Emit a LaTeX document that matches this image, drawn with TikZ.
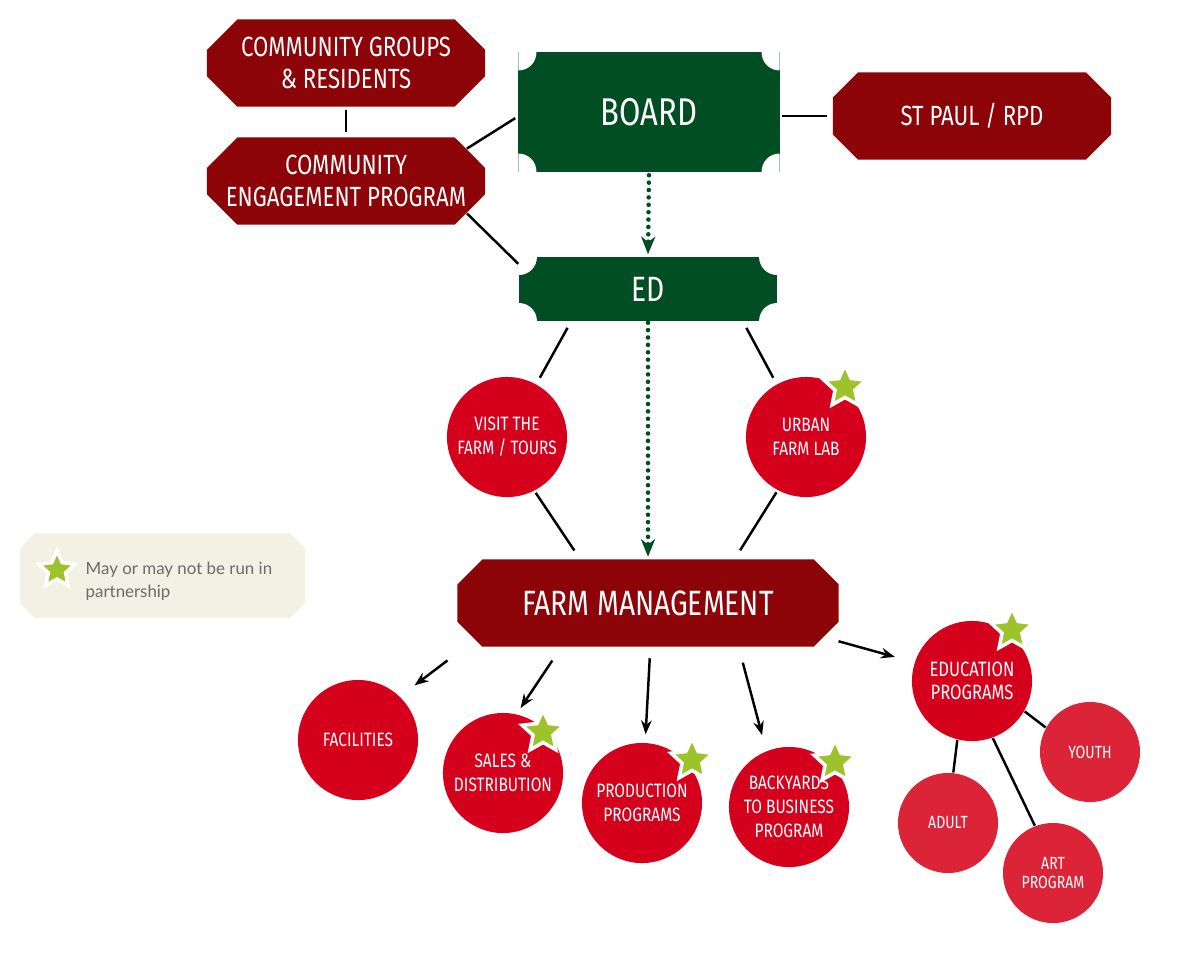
\documentclass[tikz,border=0pt]{standalone}
\usepackage{fontspec}
\setmainfont{Fira Sans}[FakeStretch=0.8]
\newfontfamily\notefont{Lato}
\usetikzlibrary{shapes.misc,shapes.geometric,arrows.meta}

\definecolor{boxred}{HTML}{8C0308}
\definecolor{boardgreen}{HTML}{014E24}
\definecolor{dotred}{HTML}{D5001C}
\definecolor{subred}{HTML}{DB2438}
\definecolor{partnerlime}{HTML}{9CC42A}
\definecolor{notebg}{HTML}{F3F1E4}
\definecolor{notegray}{HTML}{6B6B6B}

\begin{document}
\begin{tikzpicture}[x=0.01cm, y=-0.01cm,
  redbox/.style={chamfered rectangle, chamfered rectangle xsep=0.18cm, fill=boxred, text=white, align=center,
    minimum width=2.78cm, minimum height=0.87cm, inner sep=0pt, font=\fontsize{7.9}{9.1}\selectfont},
  greenbox/.style={rectangle, fill=boardgreen, text=white, inner sep=0pt,
    path picture={\foreach \corner in {north west,north east,south west,south east}
      \fill[white] (path picture bounding box.\corner) circle[radius=0.18cm];}},
  bigdot/.style={circle, fill=dotred, text=white, minimum size=1.2cm, inner sep=0pt, align=center,
    font=\fontsize{5.5}{6.8}\selectfont},
  smalldot/.style={circle, fill=subred, text=white, minimum size=1.0cm, inner sep=0pt, align=center,
    font=\fontsize{5}{5.2}\selectfont},
  partner/.style={star, star points=5, star point ratio=2.1, minimum size=0.44cm, inner sep=0pt,
    fill=partnerlime, draw=white, line width=1pt},
  link/.style={line width=0.7pt, black},
  feed/.style={link, -{Stealth[length=4pt,width=3pt]}},
  chain/.style={draw=boardgreen, line width=1.3pt, dash pattern=on 0pt off 2.1pt, line cap=round,
    -{Stealth[length=5pt,width=4pt,inset=1.5pt]}}]
\useasboundingbox (0,0) rectangle (1200,960);

% legend panel
\fill[notebg] (35,533) -- (290,533) -- (305,548) -- (305,603) -- (290,618) -- (35,618) -- (20,603) -- (20,548) -- cycle;

% top row
\node[redbox] (groups) at (346,63) {COMMUNITY GROUPS\\\& RESIDENTS};
\node[redbox] (engage) at (346,181) {COMMUNITY\\ENGAGEMENT PROGRAM};
\node[greenbox, minimum width=2.61cm, minimum height=1.19cm, font=\fontsize{11}{13}\selectfont] (board) at (649,112) {BOARD};
\node[redbox] (stpaul) at (972,116) {ST PAUL / RPD};
\node[greenbox, minimum width=2.58cm, minimum height=0.64cm, font=\fontsize{10}{12}\selectfont] (ed) at (648,289) {ED};

% circles under the ED
\node[bigdot] (visit) at (507,437) {VISIT THE\\FARM / TOURS};
\node[bigdot] (lab) at (806,437) {URBAN\\FARM LAB};

\node[redbox, chamfered rectangle xsep=0.24cm, minimum width=3.81cm, minimum height=0.87cm,
  font=\fontsize{10}{12}\selectfont] (farm) at (648,603) {FARM MANAGEMENT};

% programs
\node[bigdot] (facilities) at (358,740) {FACILITIES};
\node[bigdot] (sales) at (503,773) {SALES \&\\DISTRIBUTION};
\node[bigdot] (production) at (642,803) {PRODUCTION\\PROGRAMS};
\node[bigdot] (backyards) at (789,807) {BACKYARDS\\TO BUSINESS\\PROGRAM};
\node[bigdot, font=\fontsize{5.9}{6.4}\selectfont] (education) at (972,681) {EDUCATION\\PROGRAMS};
\node[smalldot] (youth) at (1090,752) {YOUTH};
\node[smalldot] (adult) at (948,823) {ADULT};
\node[smalldot] (art) at (1053,873) {ART\\PROGRAM};

% stars
\node[partner] (labstar) at (845,387) {};
\node[partner] (salesstar) at (543,732) {};
\node[partner] (productionstar) at (692,760) {};
\node[partner] (backyardsstar) at (835,762) {};
\node[partner] (educationstar) at (1012,630) {};
\node[partner, minimum size=0.38cm] (legendstar) at (57,570) {};
\node[anchor=west, align=left, inner sep=0pt, text=notegray, font=\notefont\fontsize{4.8}{6.5}\selectfont]
  (legendtext) at (85,581) {May or may not be run in\\partnership};

% connectors
\draw[link, shorten <=0.03cm, shorten >=0.05cm] (groups.south) -- (engage.north);
\draw[link, shorten >=0.03cm] (engage.15) -- (board.182);
\draw[link, shorten <=0.02cm, shorten >=0.05cm] (stpaul.west -| board.east) -- (stpaul.west);
\draw[link] (engage.-15) -- (ed.169);
\draw[chain, shorten <=0.03cm, shorten >=0.02cm] (board.south) -- (ed.north);
\draw[chain, shorten <=0.01cm, shorten >=0.02cm] (ed.south) -- (farm.north);
\draw[link, shorten <=0.07cm, shorten >=0.07cm] (ed.203) -- (visit.61);
\draw[link, shorten <=0.07cm, shorten >=0.07cm] (ed.341) -- (lab.119);
\draw[link, shorten <=0.02cm, shorten >=0.1cm] (visit.297) -- (farm.147);
\draw[link, shorten <=0.02cm, shorten >=0.1cm] (lab.242) -- (farm.27);
\draw[feed, shorten <=0.34cm, shorten >=0.18cm] (farm.192) -- (facilities.46);
\draw[feed, shorten <=0.16cm, shorten >=0.07cm] (farm.207) -- (sales.77);
\draw[feed, shorten <=0.11cm, shorten >=0.08cm] (farm.273) -- (production.87);
\draw[feed, shorten <=0.16cm, shorten >=0.16cm] (farm.334) -- (backyards.112);
\draw[feed, shorten <=0.15cm, shorten >=0.2cm] (farm.349) -- (education.162);
\draw[link] (education.330) -- (youth.151);
\draw[link] (education.256) -- (adult.84);
\draw[link] (education.290) -- (art.111);
\end{tikzpicture}
\end{document}
